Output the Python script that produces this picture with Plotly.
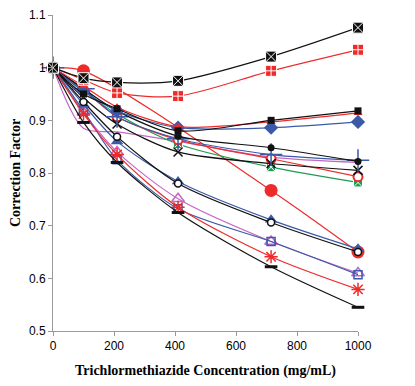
import plotly.graph_objects as go

conc = [0, 100, 210, 410, 715, 1000]
conc_bigred = [0, 100, 715, 1000]

s_boxx = [1.0, 0.980, 0.972, 0.975, 1.021, 1.076]
s_redplus = [1.0, 0.977, 0.952, 0.946, 0.994, 1.034]
s_bigred = [1.0, 0.994, 0.767, 0.650]
s_blksq = [1.0, 0.950, 0.922, 0.880, 0.900, 0.918]
s_redtri = [1.0, 0.965, 0.925, 0.888, 0.897, 0.914]
s_bdiam = [1.0, 0.955, 0.918, 0.886, 0.886, 0.897]
s_btri = [1.0, 0.930, 0.860, 0.784, 0.711, 0.656]
s_ocirc = [1.0, 0.935, 0.869, 0.780, 0.706, 0.650]
s_bdot = [1.0, 0.960, 0.918, 0.870, 0.848, 0.822]
s_bplus = [1.0, 0.960, 0.907, 0.865, 0.835, 0.824]
s_bx = [1.0, 0.943, 0.893, 0.840, 0.818, 0.805]
s_rcirc = [1.0, 0.958, 0.907, 0.863, 0.827, 0.793]
s_green = [1.0, 0.955, 0.912, 0.855, 0.811, 0.782]
s_mag = [1.0, 0.885, 0.878, 0.860, 0.830, 0.820]
s_mtri = [1.0, 0.915, 0.840, 0.751, 0.670, 0.610]
s_bsq = [1.0, 0.918, 0.825, 0.732, 0.670, 0.607]
s_rast = [1.0, 0.912, 0.835, 0.735, 0.641, 0.579]
s_dash = [1.0, 0.896, 0.820, 0.725, 0.622, 0.545]

RED = "#ee2a2a"
BLUE = "#3a5aa8"
BLACK = "#111111"
MAG = "#c468c4"
GREEN = "#1f9a55"

series = [
    (conc_bigred, s_bigred, RED, dict(symbol="circle", size=13, color=RED)),
    (conc, s_mag, MAG, dict(symbol="circle", size=1, color=MAG)),
    (conc, s_green, GREEN, dict(symbol="square-x", size=9, color=GREEN, line=dict(color="white", width=1))),
    (conc, s_rcirc, RED, dict(symbol="circle", size=9, color="white", line=dict(color=RED, width=2))),
    (conc, s_bx, BLACK, dict(symbol="x-thin-open", size=9, color=BLACK, line=dict(color=BLACK, width=1.5))),
    (conc, s_bplus, BLUE, dict(symbol="cross-thin-open", size=16, color=BLUE, line=dict(color=BLUE, width=1.5))),
    (conc, s_bdot, BLACK, dict(symbol="circle", size=7, color=BLACK)),
    (conc, s_bdiam, BLUE, dict(symbol="diamond", size=11, color=BLUE)),
    (conc, s_redtri, RED, dict(symbol="triangle-up", size=8, color=RED)),
    (conc, s_blksq, BLACK, dict(symbol="square", size=7, color=BLACK)),
    (conc, s_btri, BLUE, dict(symbol="triangle-up", size=11, color=BLUE)),
    (conc, s_ocirc, BLACK, dict(symbol="circle", size=7, color="white", line=dict(color=BLACK, width=1.5))),
    (conc, s_mtri, MAG, dict(symbol="triangle-up-open", size=11, color=MAG, line=dict(color=MAG, width=1.5))),
    (conc, s_bsq, BLUE, dict(symbol="square-open", size=8, color=BLUE, line=dict(color=BLUE, width=1.5))),
    (conc, s_rast, RED, dict(symbol="asterisk-open", size=11, color=RED, line=dict(color=RED, width=1.5))),
    (conc, s_dash, BLACK, dict(symbol="line-ew-open", size=9, color=BLACK, line=dict(color=BLACK, width=3))),
    (conc, s_redplus, RED, dict(symbol="square-cross", size=11, color=RED, line=dict(color="white", width=1))),
    (conc, s_boxx, BLACK, dict(symbol="square-x", size=11, color=BLACK, line=dict(color="white", width=1))),
]

fig = go.Figure()
for xs, ys, col, mk in series:
    fig.add_trace(go.Scatter(
        x=xs, y=ys, mode="lines+markers",
        line=dict(color=col, width=1.2, shape="spline", smoothing=0.8),
        marker=mk, showlegend=False, cliponaxis=False,
    ))

axis_common = dict(
    showgrid=False, zeroline=False, showline=True, linecolor="#9a9a9a", linewidth=1,
    ticks="outside", tickcolor="#9a9a9a", ticklen=4, automargin=False,
    tickfont=dict(family="Liberation Sans, Arial", size=12, color="#000000"),
)

title_font = dict(family="Liberation Serif, Times New Roman", size=14, color="#000")

fig.update_layout(
    width=407, height=378,
    margin=dict(l=45, r=57, t=7, b=55),
    paper_bgcolor="white", plot_bgcolor="white",
    xaxis=dict(range=[0, 1000], tickvals=[0, 200, 400, 600, 800, 1000],
               title=dict(text="<b>Trichlormethiazide Concentration (mg/mL)</b>",
                          font=title_font, standoff=12),
               **axis_common),
    yaxis=dict(range=[0.5, 1.1], tickvals=[0.5, 0.6, 0.7, 0.8, 0.9, 1.0, 1.1],
               ticktext=["0.5", "0.6", "0.7", "0.8", "0.9", "1", "1.1"],
               title=dict(text="<b>Correction Factor</b>", font=title_font, standoff=10),
               **axis_common),
)

fig.write_html("out.html")
